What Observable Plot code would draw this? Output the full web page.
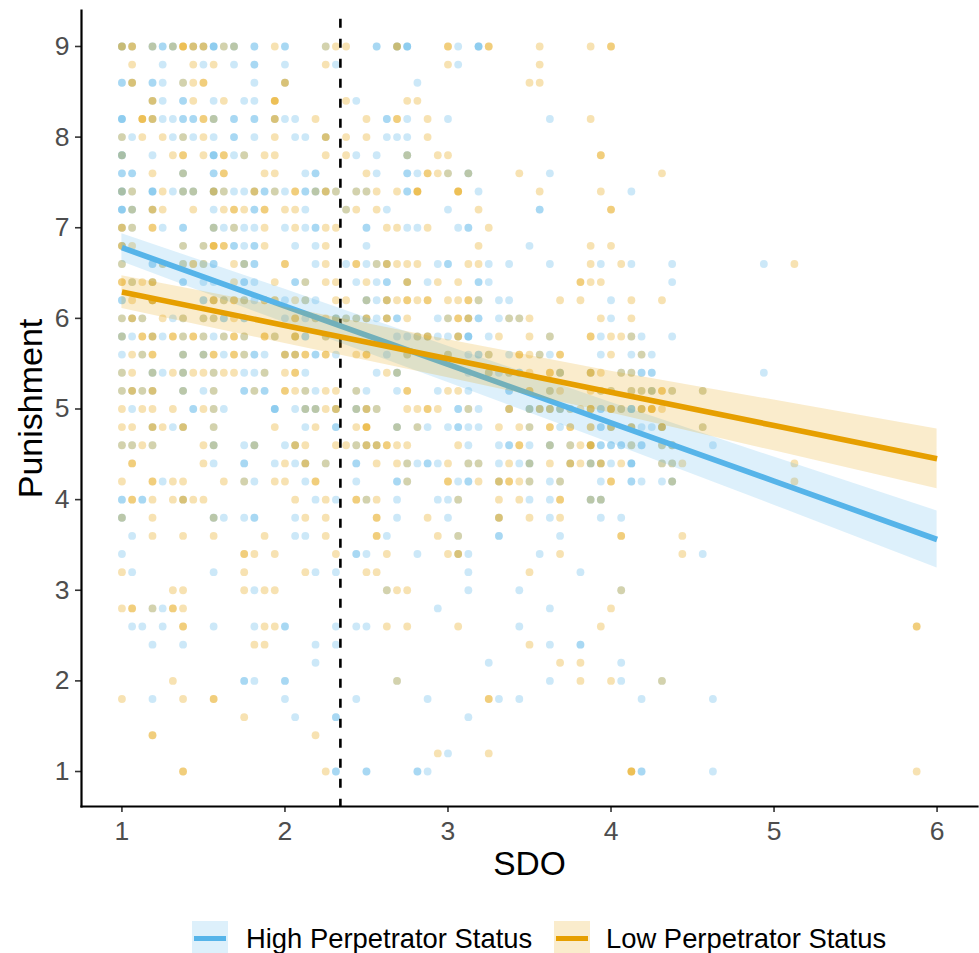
<!DOCTYPE html>
<html>
<head>
<meta charset="utf-8">
<script src="https://cdn.jsdelivr.net/npm/d3@7"></script>
<script src="https://cdn.jsdelivr.net/npm/@observablehq/plot@0.6"></script>
<style>
html,body{margin:0;padding:0;background:#fff;overflow:hidden}
#chart svg{display:block}
#legend{position:relative;width:979px;height:53px;font-family:"Liberation Sans",Arial,sans-serif;font-size:27.4px;color:#000}
.key{position:absolute;top:21px;width:36px;height:32px}
.key i{position:absolute;left:2px;right:2px;top:15px;height:5px;display:block}
.lab{position:absolute;top:21px;line-height:35px;white-space:nowrap}
</style>
</head>
<body>
<div id="chart"></div>
<div id="legend"></div>
<script>
// Punishment rows, top to bottom
const punishment = [9,8.8,8.6,8.4,8.2,8,7.8,7.6,7.4,7.2,7,6.8,6.6,6.4,6.2,6,5.8,5.6,5.4,5.2,5,4.8,4.6,4.4,4.2,4,3.8,3.6,3.4,3.2,3,2.8,2.6,2.4,2.2,2,1.8,1.6,1.4,1.2,1];
// SDO responses sit on a grid of sixteenths above 1: each entry counts sixteenths; repeats are overplotted respondents
const highSixteenths = [
[0,0,1,3,3,4,4,5,5,7,8,9,9,9,10,11,11,13,13,16,16,20,25,25,27,27,28,28,28,33,35,35,35],
[4,8,11,13,13,16,21,33],
[0,0,1,3,3,4,6,13,16,29],
[3,4,6,6,9,12,13,23],
[0,0,0,3,4,5,6,6,7,7,9,9,11,11,13,13,15,16,17,26,26,28,32,42],
[0,1,5,6,7,9,11,11,13,17,18,20,26,27,28],
[0,0,0,3,9,9,9,11,12,23,25,28,28],
[0,0,1,1,6,6,9,9,18,19,19,25,28,28,29,32,34,34,42],
[0,0,0,1,3,3,3,5,6,6,7,7,9,9,10,11,12,13,14,14,15,16,18,18,19,19,20,21,23,24,28,28,35,50],
[0,0,0,1,1,3,9,13,13,18,22,26,32,41,41],
[0,1,4,6,6,9,9,10,11,12,13,16,18,19,19,24,24,28,29,33,34,34],
[0,6,8,11,11,12,13,13,17,19,24,40],
[0,3,3,4,6,8,9,9,12,12,13,13,19,22,24,25,26,31,32,32,36,38,42,47,50,54,63],
[1,3,6,6,8,9,12,12,13,17,17,18,23,25,26,26,28,30,35,35,36,54],
[0,0,3,8,8,9,10,12,13,16,18,19,24,24,25,26,35,37,38,48],
[0,1,2,5,6,8,9,10,10,12,12,16,18,19,21,21,22,23,24,25,26,27,27,31,32,34,35,35,37,38,39,48],
[0,0,1,3,4,6,8,9,10,12,15,17,18,18,20,27,28,29,30,31,32,33,34,34,34,36,42,47,50,51,54],
[0,2,6,6,8,8,10,12,13,13,14,16,17,19,19,21,26,28,32,34,35,35,36,38,41,42,47,50,51,52],
[0,3,3,4,6,6,9,12,13,14,18,25,27,27,34,36,37,38,39,39,43,43,46,49,50,51,51,52,52,63],
[0,1,2,3,6,6,8,9,12,12,13,14,14,18,19,23,24,27,31,34,38,38,42,47,48,50,51,52,52,54,57],
[1,7,7,9,10,15,15,15,17,18,18,19,19,21,23,23,24,25,33,33,34,35,38,40,40,41,42,43,43,44,47,47,49,50,50,50,51],
[3,5,6,9,18,21,21,27,27,29,30,32,33,33,34,35,40,43,47,47,48,50,51,52,53,57],
[0,1,3,9,9,12,13,13,16,17,23,24,25,34,37,38,38,40,42,42,44,46,47,47,48,48,49,49,50,51,51,53,54,54,58],
[9,12,12,15,17,18,20,23,23,28,29,30,30,31,34,35,37,39,40,40,44,46,46,47,48,50,50,50,53,54],
[4,12,13,18,23,27,27,28,33,34,34,37,40,42,43,47,50,50,51,53,54,54],
[0,0,2,2,6,19,21,24,27,31,32,33,40,42,46,46,47,47],
[0,0,9,9,10,12,13,13,17,27,32,37,42,47,49],
[1,17,18,26,33,37,37,43],
[0,23,23,24,29,33,34,41,57],
[1,9,19,21,34,45],
[13,26,34,39,49],
[3,4,31,42],
[1,2,4,9,13,16,16,21,23,24,39],
[3,6,19,21,42,45,45],
[19,36,49],
[12,12,13,16,16,27,42,49,53],
[3,16,23,30,37,39,51,58],
[17,21,21,34],
[],
[32],
[21,21,24,24,29,29,30,51,51,58]
];
const lowSixteenths = [
[0,0,1,1,3,5,6,6,6,7,7,8,8,10,11,15,20,21,22,27,27,32,32,36,36,41,46,48,48],
[1,7,9,20,32,41],
[1,1,6,7,8,8,16,16,40,41],
[3,3,7,10,15,15,15,22,28,29],
[2,2,2,3,3,8,8,9,15,15,19,24,27,27,30,46],
[0,2,4,6,8,15,20,20,22,24,30],
[0,5,6,6,8,10,10,12,14,15,20,22,28,31,32,47,47],
[3,6,10,10,14,15,24,30,30,31,32,34,39,53],
[0,1,4,6,7,9,9,10,13,13,15,17,17,19,20,20,21,23,24,25,27,29,29,29,33,33,33,41,47],
[1,3,3,4,7,10,11,11,12,14,14,16,17,22,23,25,35,48,48],
[0,0,1,3,3,9,11,14,17,20,21,26,27,30,36],
[0,0,1,6,8,9,9,9,10,10,14,20,35,46,48],
[0,4,6,7,7,8,11,12,16,16,20,23,23,25,26,26,27,28,29,34,35,46,49,66],
[0,0,1,2,3,3,11,15,18,20,21,24,28,28,31,33,45,45,46,47],
[1,3,3,3,9,9,10,11,11,12,14,14,15,15,17,18,21,22,24,26,26,27,28,28,29,30,30,32,33,34,34,35,43,45,50,53],
[0,1,1,2,4,6,8,9,11,17,17,19,20,21,22,23,24,24,26,26,28,32,33,33,34,34,38,39,40,47,50],
[0,2,2,3,3,5,5,6,7,7,8,10,11,11,12,14,14,15,17,17,20,29,30,30,33,33,37,40,42,46,46,48,49,50],
[1,2,3,3,6,8,9,9,11,11,12,16,16,17,17,18,18,20,20,23,24,24,28,32,36,39,39,40,41,43,43,48,51],
[0,1,3,5,6,7,8,9,10,11,14,16,17,17,26,27,36,38,40,42,42,43,46,46,47,49,50],
[0,1,1,2,3,3,6,9,13,16,16,17,18,20,21,23,28,28,32,33,40,40,42,43,46,47,48,50,51,52,53,53,54,57],
[0,2,3,5,8,9,18,19,20,21,21,23,24,24,25,28,29,30,30,31,34,38,38,40,41,41,42,42,43,44,45,46,46,46,48,48,48,49,51,51,52,52,52,53],
[0,1,3,3,4,6,6,9,15,19,23,24,24,24,27,29,37,39,40,42,42,44,44,46,46,48,48,50,50,53,53,53,57],
[0,1,2,3,8,9,13,17,17,18,21,22,23,24,24,25,25,26,26,27,28,33,39,39,42,44,45,46,46,46,50,53,54],
[1,1,8,16,18,18,20,25,27,28,32,34,35,38,40,42,44,44,45,46,47,47,49,53,54,55,66],
[0,3,3,5,6,10,12,15,16,19,19,28,32,32,35,37,37,38,38,39,40,43,48,48,54,66],
[1,1,3,5,6,6,7,8,17,20,23,23,24,25,33,37,39,43,43,46,47],
[0,3,9,18,20,25,25,30,37,37,40,43],
[3,6,9,14,20,25,25,31,33,49,49,55],
[12,12,13,15,21,26,32,33,33,43,55],
[0,12,18,24,25,40],
[5,6,12,14,15,26,27,28,49],
[0,1,1,3,5,5,6,48],
[6,6,14,15,26,28,33,47,78,78],
[13,14,40],
[43,45],
[5,27,45,48,53],
[0,6,9,9,36,36],
[12],
[3,3,19],
[31,36],
[6,6,20,50,50,50,78]
];
// Fitted lines with confidence limits, read at whole SDO values
const sdoFit = [1,2,3,4,5,6];
const highFit = [6.78,6.136,5.492,4.848,4.204,3.56];
const highUpper = [6.935,6.321,5.692,5.073,4.469,3.875];
const highLower = [6.625,5.951,5.292,4.623,3.939,3.245];
const lowFit = [6.29,5.922,5.554,5.186,4.818,4.45];
const lowUpper = [6.47,6.122,5.764,5.416,5.098,4.78];
const lowLower = [6.11,5.722,5.344,4.956,4.538,4.12];
const sdoCut = 2.34;
const sdoTicks = [1,2,3,4,5,6];
const punishTicks = [1,2,3,4,5,6,7,8,9];
const groups = ["High Perpetrator Status","Low Perpetrator Status"];
const highColor = "#56B4E9", lowColor = "#E69F00";

const toPoints = rowsOfCols => punishment.flatMap((p,i)=>rowsOfCols[i].map(k=>({sdo:1+k/16,punishment:p})));
const highPts = toPoints(highSixteenths), lowPts = toPoints(lowSixteenths);
const fitIdx = sdoFit.map((_,i)=>i);
const font = '"Liberation Sans",Arial,sans-serif';
const band = (up,lo,fill)=>Plot.areaY(fitIdx,{x:i=>sdoFit[i],y1:i=>lo[i],y2:i=>up[i],fill,fillOpacity:0.2});
const fit = (ys,stroke)=>Plot.line(fitIdx,{x:i=>sdoFit[i],y:i=>ys[i],stroke,strokeWidth:5.6,strokeLinecap:"butt"});

const chart = Plot.plot({
  width:979,height:900,
  marginLeft:81,marginRight:2,marginTop:10,marginBottom:94,
  style:{fontFamily:font,background:"#fff"},
  x:{domain:[0.752,6.248]},
  y:{domain:[0.614,9.397]},
  marks:[
    Plot.dot(highPts,{x:"sdo",y:"punishment",r:3.9,fill:highColor,fillOpacity:0.3,stroke:"none"}),
    Plot.dot(lowPts,{x:"sdo",y:"punishment",r:3.9,fill:lowColor,fillOpacity:0.3,stroke:"none"}),
    Plot.ruleX([sdoCut],{y1:9.3,y2:0.614,stroke:"#000",strokeWidth:2.6,strokeDasharray:"9 11"}),
    band(highUpper,highLower,highColor),
    fit(highFit,highColor),
    band(lowUpper,lowLower,lowColor),
    fit(lowFit,lowColor),
    Plot.axisX({ticks:sdoTicks,tickFormat:d=>d,label:null,tickSize:6,tickPadding:9,fontSize:26.5,stroke:"#333",strokeWidth:1.6,fill:"#4d4d4d"}),
    Plot.axisY({ticks:punishTicks,tickFormat:d=>d,label:null,tickSize:6,tickPadding:6,fontSize:26.5,stroke:"#333",strokeWidth:1.6,fill:"#4d4d4d"}),
    Plot.frame({anchor:"left",stroke:"#000",strokeWidth:2.2}),
    Plot.frame({anchor:"bottom",stroke:"#000",strokeWidth:2.2}),
    Plot.text(["SDO"],{frameAnchor:"bottom",dy:68,fontSize:33.5,fill:"#000",textAnchor:"middle"}),
    Plot.text(["Punishment"],{frameAnchor:"left",dx:-50.5,rotate:-90,fontSize:34,fill:"#000",textAnchor:"middle"})
  ]
});
document.getElementById("chart").appendChild(chart);

const legend = document.getElementById("legend");
[[groups[0],highColor,192,246],[groups[1],lowColor,554,606]].forEach(([name,c,kx,tx])=>{
  const key=document.createElement("div");key.className="key";key.style.left=kx+"px";
  key.style.background=d3.color(c).copy({opacity:0.2})+"";
  const line=document.createElement("i");line.style.background=c;key.appendChild(line);
  const lab=document.createElement("div");lab.className="lab";lab.style.left=tx+"px";lab.textContent=name;
  legend.appendChild(key);legend.appendChild(lab);
});
</script>
</body>
</html>
